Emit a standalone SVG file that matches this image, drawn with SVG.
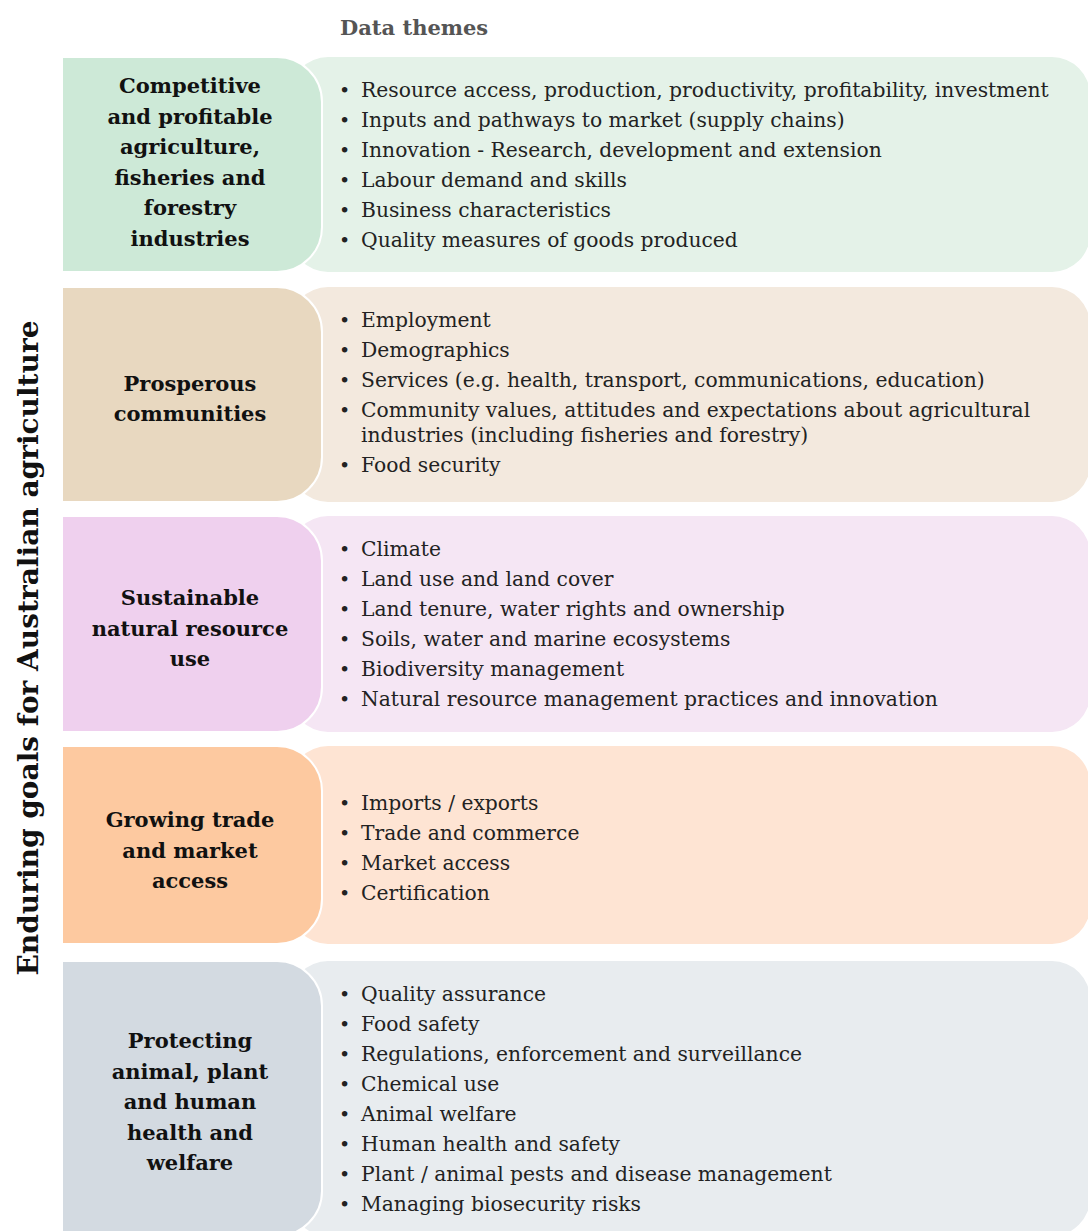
<svg xmlns="http://www.w3.org/2000/svg" width="1088" height="1231" viewBox="0 0 1088 1231">
<style>
.goal{font-family:"DejaVu Serif","Liberation Serif",serif;font-weight:bold;font-size:21px;fill:#111;text-anchor:middle}
.item{font-family:"DejaVu Serif","Liberation Serif",serif;font-size:20.3px;fill:#222}
.bul{font-family:"DejaVu Serif","Liberation Serif",serif;font-size:19px;fill:#222}
.hdr{font-family:"DejaVu Serif","Liberation Serif",serif;font-weight:bold;font-size:21px;fill:#555}
.side{font-family:"DejaVu Serif","Liberation Serif",serif;font-weight:bold;font-size:27px;fill:#111;text-anchor:middle}
.lb{stroke:#fff;stroke-width:2}
</style>
<rect width="1088" height="1231" fill="#fff"/>
<text class="hdr" x="340" y="35">Data themes</text>
<text class="side" transform="translate(38,648) rotate(-90)" textLength="655" lengthAdjust="spacingAndGlyphs">Enduring goals for Australian agriculture</text>

<g id="row1">
<rect x="290" y="57" width="800" height="215" rx="38" fill="#e4f2e8"/>
<path class="lb" d="M62,57 H277 A45,45 0 0 1 322,102 V227 A45,45 0 0 1 277,272 H62 Z" fill="#cde9d7"/>
<text class="goal"><tspan x="190" y="93">Competitive</tspan><tspan x="190" y="123.5">and profitable</tspan><tspan x="190" y="154">agriculture,</tspan><tspan x="190" y="184.5">fisheries and</tspan><tspan x="190" y="215">forestry</tspan><tspan x="190" y="245.5">industries</tspan></text>
<text class="bul"><tspan x="339" y="97">•</tspan><tspan x="339" y="127">•</tspan><tspan x="339" y="157">•</tspan><tspan x="339" y="187">•</tspan><tspan x="339" y="217">•</tspan><tspan x="339" y="247">•</tspan></text>
<text class="item"><tspan x="361" y="97">Resource access, production, productivity, profitability, investment</tspan><tspan x="361" y="127">Inputs and pathways to market (supply chains)</tspan><tspan x="361" y="157">Innovation - Research, development and extension</tspan><tspan x="361" y="187">Labour demand and skills</tspan><tspan x="361" y="217">Business characteristics</tspan><tspan x="361" y="247">Quality measures of goods produced</tspan></text>
</g>

<g id="row2">
<rect x="290" y="287" width="800" height="215" rx="38" fill="#f3e9de"/>
<path class="lb" d="M62,287 H277 A45,45 0 0 1 322,332 V457 A45,45 0 0 1 277,502 H62 Z" fill="#e8d8c0"/>
<text class="goal"><tspan x="190" y="391">Prosperous</tspan><tspan x="190" y="421">communities</tspan></text>
<text class="bul"><tspan x="339" y="327">•</tspan><tspan x="339" y="357">•</tspan><tspan x="339" y="387">•</tspan><tspan x="339" y="417">•</tspan><tspan x="339" y="472">•</tspan></text>
<text class="item"><tspan x="361" y="327">Employment</tspan><tspan x="361" y="357">Demographics</tspan><tspan x="361" y="387">Services (e.g. health, transport, communications, education)</tspan><tspan x="361" y="417">Community values, attitudes and expectations about agricultural</tspan><tspan x="361" y="442">industries (including fisheries and forestry)</tspan><tspan x="361" y="472">Food security</tspan></text>
</g>

<g id="row3">
<rect x="290" y="516" width="800" height="216" rx="38" fill="#f5e6f4"/>
<path class="lb" d="M62,516 H277 A45,45 0 0 1 322,561 V687 A45,45 0 0 1 277,732 H62 Z" fill="#efd0ee"/>
<text class="goal"><tspan x="190" y="605">Sustainable</tspan><tspan x="190" y="635.5">natural resource</tspan><tspan x="190" y="666">use</tspan></text>
<text class="bul"><tspan x="339" y="556">•</tspan><tspan x="339" y="586">•</tspan><tspan x="339" y="616">•</tspan><tspan x="339" y="646">•</tspan><tspan x="339" y="676">•</tspan><tspan x="339" y="706">•</tspan></text>
<text class="item"><tspan x="361" y="556">Climate</tspan><tspan x="361" y="586">Land use and land cover</tspan><tspan x="361" y="616">Land tenure, water rights and ownership</tspan><tspan x="361" y="646">Soils, water and marine ecosystems</tspan><tspan x="361" y="676">Biodiversity management</tspan><tspan x="361" y="706">Natural resource management practices and innovation</tspan></text>
</g>

<g id="row4">
<rect x="290" y="746" width="800" height="198" rx="38" fill="#fee4d3"/>
<path class="lb" d="M62,746 H277 A45,45 0 0 1 322,791 V899 A45,45 0 0 1 277,944 H62 Z" fill="#fdc9a0"/>
<text class="goal"><tspan x="190" y="827">Growing trade</tspan><tspan x="190" y="857.5">and market</tspan><tspan x="190" y="888">access</tspan></text>
<text class="bul"><tspan x="339" y="810">•</tspan><tspan x="339" y="840">•</tspan><tspan x="339" y="870">•</tspan><tspan x="339" y="900">•</tspan></text>
<text class="item"><tspan x="361" y="810">Imports / exports</tspan><tspan x="361" y="840">Trade and commerce</tspan><tspan x="361" y="870">Market access</tspan><tspan x="361" y="900">Certification</tspan></text>
</g>

<g id="row5">
<rect x="290" y="961" width="800" height="275" rx="38" fill="#e8ecef"/>
<path class="lb" d="M62,961 H277 A45,45 0 0 1 322,1006 V1191 A45,45 0 0 1 277,1236 H62 Z" fill="#d3dae1"/>
<text class="goal"><tspan x="190" y="1048">Protecting</tspan><tspan x="190" y="1078.5">animal, plant</tspan><tspan x="190" y="1109">and human</tspan><tspan x="190" y="1139.5">health and</tspan><tspan x="190" y="1170">welfare</tspan></text>
<text class="bul"><tspan x="339" y="1001">•</tspan><tspan x="339" y="1031">•</tspan><tspan x="339" y="1061">•</tspan><tspan x="339" y="1091">•</tspan><tspan x="339" y="1121">•</tspan><tspan x="339" y="1151">•</tspan><tspan x="339" y="1181">•</tspan><tspan x="339" y="1211">•</tspan></text>
<text class="item"><tspan x="361" y="1001">Quality assurance</tspan><tspan x="361" y="1031">Food safety</tspan><tspan x="361" y="1061">Regulations, enforcement and surveillance</tspan><tspan x="361" y="1091">Chemical use</tspan><tspan x="361" y="1121">Animal welfare</tspan><tspan x="361" y="1151">Human health and safety</tspan><tspan x="361" y="1181">Plant / animal pests and disease management</tspan><tspan x="361" y="1211">Managing biosecurity risks</tspan></text>
</g>
</svg>
